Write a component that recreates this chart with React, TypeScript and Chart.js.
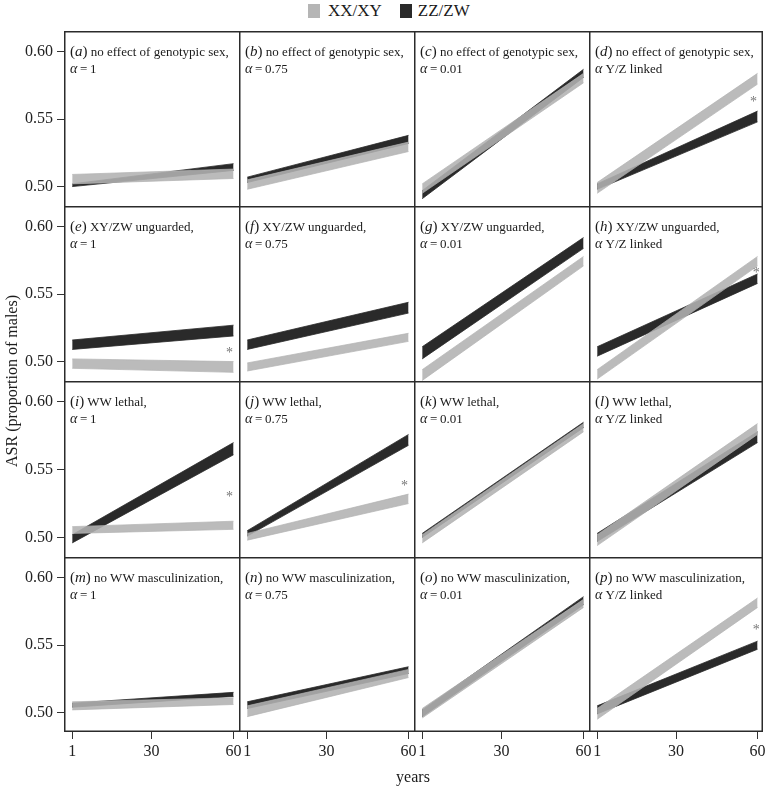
import React, { useEffect, useRef } from 'react';
import { Chart, registerables } from 'chart.js';
Chart.register(...registerables);

// ---------- data ----------
const years = [1, 60];
const xTicks = [1, 30, 60];
const xTickLabels = ['1', '30', '60'];
const yTicks = [0.5, 0.55, 0.6];
const yTickLabels = ['0.50', '0.55', '0.60'];
const xRange = [-2, 62];
const yRange = [0.4856, 0.6154];

const seriesNames = ['XX/XY', 'ZZ/ZW'];

const panelLetters = ['a', 'b', 'c', 'd', 'e', 'f', 'g', 'h', 'i', 'j', 'k', 'l', 'm', 'n', 'o', 'p'];
const rowTitles = ['no effect of genotypic sex,', 'XY/ZW unguarded,', 'WW lethal,', 'no WW masculinization,'];
const colAlphas = ['= 1', '= 0.75', '= 0.01', 'Y/Z linked'];

// [ASR at year 1, ASR at year 60]
const xxLower = [
  [0.502, 0.506], [0.498, 0.526], [0.495, 0.577], [0.495, 0.576],
  [0.495, 0.492], [0.493, 0.515], [0.486, 0.571], [0.487, 0.571],
  [0.503, 0.506], [0.498, 0.525], [0.496, 0.578], [0.494, 0.576],
  [0.502, 0.506], [0.497, 0.526], [0.496, 0.578], [0.495, 0.578],
];
const xxUpper = [
  [0.509, 0.513], [0.505, 0.533], [0.502, 0.584], [0.503, 0.584],
  [0.502, 0.500], [0.499, 0.521], [0.494, 0.578], [0.494, 0.578],
  [0.508, 0.512], [0.503, 0.532], [0.502, 0.584], [0.502, 0.584],
  [0.508, 0.511], [0.505, 0.532], [0.503, 0.584], [0.503, 0.585],
];
const zzLower = [
  [0.500, 0.512], [0.503, 0.532], [0.491, 0.581], [0.498, 0.548],
  [0.509, 0.519], [0.509, 0.536], [0.502, 0.584], [0.504, 0.558],
  [0.496, 0.561], [0.501, 0.568], [0.500, 0.581], [0.497, 0.570],
  [0.504, 0.512], [0.503, 0.529], [0.497, 0.580], [0.499, 0.547],
];
const zzUpper = [
  [0.502, 0.517], [0.507, 0.538], [0.497, 0.587], [0.502, 0.556],
  [0.516, 0.527], [0.516, 0.544], [0.511, 0.592], [0.511, 0.565],
  [0.502, 0.570], [0.505, 0.576], [0.503, 0.585], [0.503, 0.578],
  [0.507, 0.515], [0.508, 0.534], [0.502, 0.586], [0.505, 0.553],
];
// significance marks: [year, ASR] or null
const asterisks: (number[] | null)[] = [
  null, null, null, [58.5, 0.565],
  [58.5, 0.508], null, null, [59.5, 0.568],
  [58.5, 0.532], [58.5, 0.540], null, null,
  null, null, null, [59.5, 0.563],
];

// ---------- style / layout ----------
const GREY = 'rgba(178,178,178,0.88)';
const BLACK = '#2a2a2a';
const FONT = '"Liberation Serif", "DejaVu Serif", serif';
const colEdges = [64, 239, 414, 589, 763];
const rowEdges = [31, 206, 381, 557, 732];

const toPts = (pair: number[]) => years.map((x, i) => ({ x, y: pair[i] }));

const zeroPad = (s: any) => {
  s.paddingTop = 0;
  s.paddingBottom = 0;
  s.paddingLeft = 0;
  s.paddingRight = 0;
};

const framePlugin = {
  id: 'frame',
  afterDatasetsDraw(chart: any, _args: any, opts: any) {
    const { ctx, chartArea: a } = chart;
    ctx.save();
    ctx.strokeStyle = '#2b2b2b';
    ctx.lineWidth = 1.5;
    ctx.beginPath();
    ctx.moveTo(a.left, a.top + 0.75);
    ctx.lineTo(a.right, a.top + 0.75);
    ctx.moveTo(a.left + 0.75, a.top);
    ctx.lineTo(a.left + 0.75, a.bottom);
    if (opts.right) {
      ctx.moveTo(a.right - 0.75, a.top);
      ctx.lineTo(a.right - 0.75, a.bottom);
    }
    if (opts.bottom) {
      ctx.moveTo(a.left, a.bottom - 0.75);
      ctx.lineTo(a.right, a.bottom - 0.75);
    }
    ctx.stroke();
    const star = opts.star as number[] | null;
    if (star) {
      const px = chart.scales.x.getPixelForValue(star[0]);
      const py = chart.scales.y.getPixelForValue(star[1]);
      ctx.fillStyle = '#777';
      ctx.font = '14px ' + FONT;
      ctx.textAlign = 'center';
      ctx.textBaseline = 'middle';
      ctx.fillText('*', px, py + 3);
    }
    ctx.restore();
  },
};

function Panel({ idx }: { idx: number }) {
  const ref = useRef<HTMLCanvasElement>(null);
  const r = Math.floor(idx / 4);
  const c = idx % 4;
  const yAxisW = c === 0 ? 64 : 0;
  const xAxisH = r === 3 ? 54 : 0;
  const padRight = r === 3 ? (c === 3 ? 3 : 9) : 0;
  const areaW = colEdges[c + 1] - colEdges[c];
  const areaH = rowEdges[r + 1] - rowEdges[r];
  const left = colEdges[c] - yAxisW;
  const top = rowEdges[r];
  const w = yAxisW + areaW + padRight;
  const h = areaH + xAxisH;

  useEffect(() => {
    if (!ref.current) return;
    const chart = new Chart(ref.current, {
      type: 'line',
      data: {
        datasets: [
          { label: seriesNames[0] + ' low', data: toPts(xxLower[idx]), borderColor: GREY, backgroundColor: GREY, borderWidth: 0.8, pointRadius: 0, fill: false },
          { label: seriesNames[0] + ' high', data: toPts(xxUpper[idx]), borderColor: GREY, backgroundColor: GREY, borderWidth: 0.8, pointRadius: 0, fill: 0 },
          { label: seriesNames[1] + ' low', data: toPts(zzLower[idx]), borderColor: BLACK, backgroundColor: BLACK, borderWidth: 0.8, pointRadius: 0, fill: false },
          { label: seriesNames[1] + ' high', data: toPts(zzUpper[idx]), borderColor: BLACK, backgroundColor: BLACK, borderWidth: 0.8, pointRadius: 0, fill: 2 },
        ],
      },
      options: {
        responsive: false,
        animation: false,
        events: [],
        layout: { padding: { left: 0, right: padRight, top: 0, bottom: 0 } },
        plugins: {
          legend: { display: false },
          tooltip: { enabled: false },
          frame: { right: c === 3, bottom: r === 3, star: asterisks[idx] },
        } as any,
        scales: {
          x: {
            type: 'linear',
            min: xRange[0],
            max: xRange[1],
            display: r === 3,
            afterBuildTicks: (s: any) => { s.ticks = xTicks.map((v) => ({ value: v })); },
            afterFit: (s: any) => { s.height = xAxisH; zeroPad(s); },
            ticks: {
              autoSkip: false,
              maxRotation: 0,
              padding: 3,
              color: '#222',
              font: { family: FONT, size: 16 },
              callback: (v: any) => xTickLabels[xTicks.indexOf(Number(v))] ?? '',
            },
            grid: { display: true, drawOnChartArea: false, drawTicks: true, tickLength: 7, color: '#333', lineWidth: 1 },
            border: { display: false },
          },
          y: {
            type: 'linear',
            min: yRange[0],
            max: yRange[1],
            display: c === 0,
            afterBuildTicks: (s: any) => { s.ticks = yTicks.map((v) => ({ value: v })); },
            afterFit: (s: any) => { s.width = yAxisW; zeroPad(s); },
            ticks: {
              autoSkip: false,
              padding: 4,
              color: '#222',
              font: { family: FONT, size: 16 },
              callback: (v: any) => {
                const k = yTicks.findIndex((t) => Math.abs(t - Number(v)) < 1e-9);
                return k >= 0 ? yTickLabels[k] : '';
              },
            },
            grid: { display: true, drawOnChartArea: false, drawTicks: true, tickLength: 7, color: '#333', lineWidth: 1 },
            border: { display: false },
          },
        },
      },
      plugins: [framePlugin],
    } as any);
    return () => chart.destroy();
  }, [idx]);

  return (
    <canvas
      ref={ref}
      width={w}
      height={h}
      style={{ position: 'absolute', left, top, width: w, height: h, display: 'block' }}
    />
  );
}

function PanelLabel({ idx }: { idx: number }) {
  const r = Math.floor(idx / 4);
  const c = idx % 4;
  const alpha = colAlphas[c];
  return (
    <div
      style={{
        position: 'absolute',
        left: colEdges[c] + 6,
        top: rowEdges[r] + 12,
        fontFamily: FONT,
        fontSize: 13,
        lineHeight: '17px',
        color: '#1a1a1a',
        whiteSpace: 'nowrap',
        pointerEvents: 'none',
      }}
    >
      <div>
        <span style={{ fontSize: 15 }}>
          (<i>{panelLetters[idx]}</i>)
        </span>{' '}
        {rowTitles[r]}
      </div>
      <div>
        <i style={{ fontSize: 14 }}>α</i>
        {alpha.startsWith('=') ? '\u2009' + alpha.replace(' ', '\u2009') : ' ' + alpha}
      </div>
    </div>
  );
}

export default function App() {
  const idxs = Array.from({ length: 16 }, (_, i) => i);
  return (
    <div style={{ position: 'absolute', left: 0, top: 0, width: 766, height: 786, background: '#fff' }}>
      {idxs.map((i) => (
        <Panel key={'p' + i} idx={i} />
      ))}
      {idxs.map((i) => (
        <PanelLabel key={'l' + i} idx={i} />
      ))}
      {/* legend */}
      <div style={{ position: 'absolute', left: 308, top: 1, height: 20, display: 'flex', alignItems: 'center', fontFamily: FONT, fontSize: 17, lineHeight: '20px', color: '#1a1a1a' }}>
        <span style={{ display: 'inline-block', width: 12, height: 14, background: '#b5b5b5', marginRight: 8 }} />
        <span style={{ marginRight: 18 }}>{seriesNames[0]}</span>
        <span style={{ display: 'inline-block', width: 12, height: 14, background: BLACK, marginRight: 6 }} />
        <span>{seriesNames[1]}</span>
      </div>
      {/* axis titles */}
      <div style={{ position: 'absolute', left: 413, top: 777, transform: 'translate(-50%, -50%)', fontFamily: FONT, fontSize: 16, lineHeight: '18px', color: '#1a1a1a', whiteSpace: 'nowrap' }}>
        years
      </div>
      <div style={{ position: 'absolute', left: 12, top: 381, transform: 'translate(-50%, -50%) rotate(-90deg)', fontFamily: FONT, fontSize: 16, lineHeight: '18px', color: '#1a1a1a', whiteSpace: 'nowrap' }}>
        ASR (proportion of males)
      </div>
    </div>
  );
}
